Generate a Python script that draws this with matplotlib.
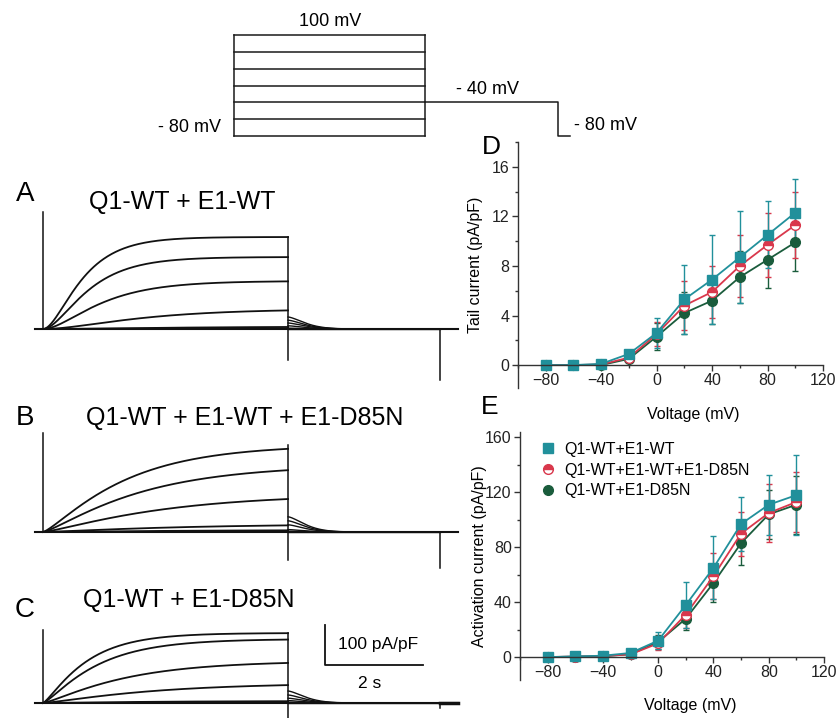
import numpy as np
import matplotlib
matplotlib.use("Agg")
import matplotlib.pyplot as plt
from matplotlib.lines import Line2D

plt.rcParams['font.family'] = ['Liberation Sans', 'DejaVu Sans']

W, H = 839, 718
DPI = 100

# ---------------- data: summary panels ----------------
voltages = [-80, -60, -40, -20, 0, 20, 40, 60, 80, 100]
x_ticks = [-80, -40, 0, 40, 80, 120]

labels = ["Q1-WT+E1-WT", "Q1-WT+E1-WT+E1-D85N", "Q1-WT+E1-D85N"]

tail_wt = [0, 0, 0.1, 0.9, 2.6, 5.3, 6.9, 8.7, 10.5, 12.3]
tail_wt_err = [0, 0, 0.1, 0.2, 1.2, 2.8, 3.6, 3.7, 2.7, 2.7]
tail_mix = [0, 0, 0.05, 0.6, 2.5, 4.8, 5.9, 8.0, 9.7, 11.3]
tail_mix_err = [0, 0, 0.1, 0.2, 1.0, 2.0, 2.1, 2.5, 2.6, 2.7]
tail_d85n = [0, 0, 0, 0.5, 2.3, 4.2, 5.2, 7.1, 8.5, 9.9]
tail_d85n_err = [0, 0, 0.1, 0.2, 1.1, 1.7, 1.9, 2.1, 2.3, 2.3]
tail_yticks = [0, 4, 8, 12, 16]

act_wt = [0, 0.5, 1, 3, 12, 38, 65, 97, 111, 118]
act_wt_err = [0, 0.5, 0.5, 1, 6, 17, 23, 20, 22, 29]
act_mix = [0, 0.4, 0.8, 2, 10, 31, 59, 90, 105, 113]
act_mix_err = [0, 0.4, 0.5, 1, 5, 10, 17, 16, 21, 22]
act_d85n = [0, 0.3, 0.6, 2, 11, 28, 54, 83, 104, 111]
act_d85n_err = [0, 0.3, 0.5, 1, 5, 8, 14, 16, 18, 21]
act_yticks = [0, 40, 80, 120, 160]

# ---------------- data: current traces (pA/pF, s) ----------------
t_step_end = 5.0
t_tail_end = 8.1
t_stop = 8.47

trace_titles = ["Q1-WT + E1-WT", "Q1-WT + E1-WT + E1-D85N", "Q1-WT + E1-D85N"]
trace_letters = ["A", "B", "C"]
amp_A = [230, 180, 120, 50, 6, 2, 0]
tau_A = [0.6, 0.7, 0.9, 1.5, 2.0, 2.0, 2.0]
tail_A = [30, 22, 15, 8, 2, 1, 0]
amp_B = [218, 168, 95, 20, 5, 0]
tau_B = [1.5, 1.8, 2.2, 2.5, 2.5, 2.5]
tail_B = [38, 28, 18, 6, 2, 0]
amp_C = [175, 160, 105, 50, 5, 0]
tau_C = [0.8, 1.0, 1.5, 2.0, 2.0, 2.0]
tail_C = [30, 20, 12, 6, 2, 0]
cap_on = [292, 248, 182]
cap_off = [-78, -70, -60]
cap_end = [-128, -90, -12]

# voltage protocol (schematic levels)
step_levels = [-80, -50, -20, 10, 40, 70, 100]
tail_level = -20
proto_times = [0, 5.0, 8.48, 8.8]

# ---------------- figure ----------------
fig = plt.figure(figsize=(W / DPI, H / DPI), dpi=DPI)


def rect(x0, y0, x1, y1):
    """pixel box (top-left origin) -> figure fraction rect"""
    return [x0 / W, (H - y1) / H, (x1 - x0) / W, (y1 - y0) / H]


def ftext(x, y, s, **kw):
    fig.text(x / W, 1 - y / H, s, **kw)


# ---- protocol ----
axp = fig.add_axes(rect(150, 10, 680, 145))
axp.set_xlim(-2.2, 11.68)
axp.set_ylim(-96, 144.6)
axp.axis('off')
pc = '#1a1a1a'
for lv in step_levels:
    axp.plot([proto_times[0], proto_times[1]], [lv, lv], color=pc, lw=1.1)
axp.plot([proto_times[0], proto_times[0]], [step_levels[0], step_levels[-1]], color=pc, lw=1.1)
axp.plot([proto_times[1], proto_times[1]], [step_levels[0], step_levels[-1]], color=pc, lw=1.1)
axp.plot([proto_times[1], proto_times[2], proto_times[2], proto_times[3]],
         [tail_level, tail_level, step_levels[0], step_levels[0]], color=pc, lw=1.1)
ftext(330, 21, "100 mV", ha='center', va='center', fontsize=13)
ftext(189, 128, "- 80 mV", ha='center', va='center', fontsize=13)
ftext(487, 89, "- 40 mV", ha='center', va='center', fontsize=13)
ftext(605, 125, "- 80 mV", ha='center', va='center', fontsize=13)

# ---- traces ----
trace_boxes = [(30, 205, 465, 385), (30, 430, 465, 575), (30, 625, 465, 718)]
trace_ylims = [(-140, 310), (-107.5, 255), (-37.5, 195)]
amps = [amp_A, amp_B, amp_C]
taus = [tau_A, tau_B, tau_C]
tails = [tail_A, tail_B, tail_C]
powers = [2.0, 1.3, 1.3]

for i in range(3):
    ax = fig.add_axes(rect(*trace_boxes[i]))
    ax.set_xlim(-0.265, 8.61)
    ax.set_ylim(*trace_ylims[i])
    ax.axis('off')
    t1 = np.linspace(0, t_step_end, 300)
    t2 = np.linspace(t_step_end, t_tail_end, 200)
    for a, tau, ta in zip(amps[i], taus[i], tails[i]):
        y1 = a * (1 - np.exp(-t1 / tau)) ** powers[i]
        ax.plot(t1, y1, color='#111111', lw=1.3)
        y2 = ta * np.exp(-((t2 - t_step_end) / 0.45) ** 1.5)
        ax.plot(t2, y2, color='#111111', lw=1.0)
    ax.plot([-0.16, t_stop], [0, 0], color='#111111', lw=1.5)
    ax.plot([0, 0], [0, cap_on[i]], color='#111111', lw=1.1)
    ax.plot([t_step_end, t_step_end], [cap_off[i], max(amps[i])], color='#111111', lw=1.1, clip_on=False)
    ax.plot([t_tail_end, t_tail_end], [cap_end[i], 0], color='#111111', lw=1.1, clip_on=False)
    if i == 2:
        # scale bar: 100 pA/pF, 2 s
        ax.plot([5.76, 5.76, 7.76], [195, 95, 95], color='#111111', lw=1.3, clip_on=False)
        ax.plot([t_tail_end, t_stop], [0, 0], color='#111111', lw=2.5)

ftext(378, 644, "100 pA/pF", ha='center', va='center', fontsize=12.5)
ftext(370, 683, "2 s", ha='center', va='center', fontsize=12.5)

ftext(25, 194, "A", ha='center', va='center', fontsize=20)
ftext(182, 202, trace_titles[0], ha='center', va='center', fontsize=18)
ftext(25, 418, "B", ha='center', va='center', fontsize=20)
ftext(245, 418, trace_titles[1], ha='center', va='center', fontsize=18)
ftext(25, 610, "C", ha='center', va='center', fontsize=20)
ftext(189, 600, trace_titles[2], ha='center', va='center', fontsize=18)

# ---- summary panels ----
teal = '#21909b'
red = '#d9384c'
green = '#1a5c3c'
spine_c = '#333333'
FS = 11.5


def style_ax(ax, ylim, yticks, yminor):
    ax.set_xlim(-100, 120)
    ax.set_ylim(*ylim)
    for s in ['top', 'right']:
        ax.spines[s].set_visible(False)
    ax.spines['bottom'].set_position(('data', 0))
    ax.spines['bottom'].set_bounds(-100, 120)
    for s in ['left', 'bottom']:
        ax.spines[s].set_color(spine_c)
        ax.spines[s].set_linewidth(1.0)
    ax.set_xticks(x_ticks)
    ax.set_xticks([-100, -60, -20, 20, 60, 100], minor=True)
    ax.set_yticks(yticks)
    ax.set_yticks(yminor, minor=True)
    ax.tick_params(which='major', direction='out', length=4, width=1, color=spine_c,
                   labelsize=FS, labelcolor='#222222', pad=2)
    ax.tick_params(which='minor', direction='out', length=2.5, width=1, color=spine_c)
    ax.set_xticklabels(['\u221280', '\u221240', '0', '40', '80', '120'])


def draw_series(ax, y, e, color, marker, **mk):
    ax.errorbar(voltages, y, yerr=e, color=color, lw=1.3, elinewidth=1.0, capsize=2.2,
                capthick=1.0, marker=marker, markersize=7, **mk)


axD = fig.add_axes(rect(518, 142, 823, 388))
style_ax(axD, (-1.85, 18), tail_yticks, [2, 6, 10, 14, 18])
draw_series(axD, tail_d85n, tail_d85n_err, green, 'o', markerfacecolor=green, markeredgecolor=green)
draw_series(axD, tail_mix, tail_mix_err, red, 'o', fillstyle='top', markerfacecolor=red,
            markerfacecoloralt='white', markeredgecolor=red)
draw_series(axD, tail_wt, tail_wt_err, teal, 's', markerfacecolor=teal, markeredgecolor=teal)
axD.set_xlabel("Voltage (mV)", fontsize=FS)
axD.xaxis.set_label_coords(0.574, -0.077)
axD.set_ylabel("Tail current (pA/pF)", fontsize=FS)
axD.yaxis.set_label_coords(-0.115, 0.5)

axE = fig.add_axes(rect(520, 432, 824, 680))
style_ax(axE, (-16.7, 164), act_yticks, [20, 60, 100, 140])
draw_series(axE, act_d85n, act_d85n_err, green, 'o', markerfacecolor=green, markeredgecolor=green)
draw_series(axE, act_mix, act_mix_err, red, 'o', fillstyle='top', markerfacecolor=red,
            markerfacecoloralt='white', markeredgecolor=red)
draw_series(axE, act_wt, act_wt_err, teal, 's', markerfacecolor=teal, markeredgecolor=teal)
axE.set_xlabel("Voltage (mV)", fontsize=FS)
axE.xaxis.set_label_coords(0.56, -0.073)
axE.set_ylabel("Activation current (pA/pF)", fontsize=FS)
axE.yaxis.set_label_coords(-0.11, 0.5)

lh = [Line2D([], [], ls='none', marker='s', markersize=7, color=teal),
      Line2D([], [], ls='none', marker='o', markersize=7, fillstyle='top', markerfacecolor=red,
             markerfacecoloralt='white', markeredgecolor=red),
      Line2D([], [], ls='none', marker='o', markersize=7, color=green)]
axE.legend(lh, labels, loc='upper left', bbox_to_anchor=(534 / W, 1 - 434 / H),
           bbox_transform=fig.transFigure, frameon=False, fontsize=FS,
           handlelength=0.8, handletextpad=0.6, labelspacing=0.35, borderpad=0)

ftext(491, 147, "D", ha='center', va='center', fontsize=19)
ftext(490, 407, "E", ha='center', va='center', fontsize=19)

fig.savefig("out.png", dpi=DPI)
